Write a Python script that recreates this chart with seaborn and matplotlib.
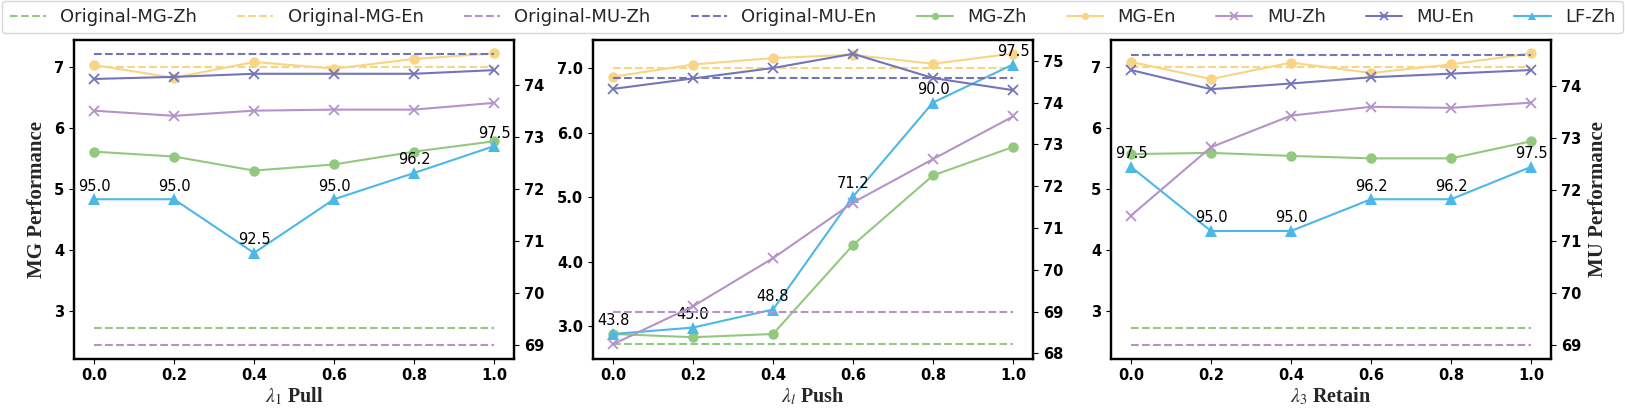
import numpy as np
import pandas as pd
import matplotlib
matplotlib.use("Agg")
import matplotlib.pyplot as plt
import seaborn as sns
from matplotlib.ticker import FormatStrFormatter

# ---------------- data ----------------
lam = [0.0, 0.2, 0.4, 0.6, 0.8, 1.0]

orig_mg_zh = 2.72
orig_mg_en = 7.0
orig_mu_zh = 69.0
orig_mu_en = 74.6

# panel 1 : lambda_1 Pull
p1_mg_zh = [5.61, 5.53, 5.30, 5.40, 5.61, 5.78]
p1_mg_en = [7.03, 6.82, 7.08, 6.97, 7.13, 7.22]
p1_mu_zh = [73.51, 73.41, 73.51, 73.53, 73.53, 73.66]
p1_mu_en = [74.12, 74.16, 74.22, 74.22, 74.22, 74.29]
p1_lf_pos = [4.83, 4.83, 3.95, 4.83, 5.26, 5.70]
p1_lf_lbl = [95.0, 95.0, 92.5, 95.0, 96.2, 97.5]

# panel 2 : lambda_l Push
p2_mg_zh = [2.88, 2.83, 2.88, 4.26, 5.34, 5.78]
p2_mg_en = [6.87, 7.06, 7.16, 7.21, 7.07, 7.23]
p2_mu_zh = [68.22, 69.13, 70.28, 71.61, 72.65, 73.67]
p2_mu_en = [74.33, 74.58, 74.83, 75.17, 74.59, 74.30]
p2_lf_pos = [2.88, 2.98, 3.26, 5.01, 6.47, 7.06]
p2_lf_lbl = [43.8, 45.0, 48.8, 71.2, 90.0, 97.5]

# panel 3 : lambda_3 Retain
p3_mg_zh = [5.57, 5.59, 5.54, 5.50, 5.50, 5.78]
p3_mg_en = [7.08, 6.80, 7.07, 6.90, 7.04, 7.22]
p3_mu_zh = [71.50, 72.82, 73.43, 73.60, 73.58, 73.68]
p3_mu_en = [74.31, 73.94, 74.05, 74.17, 74.24, 74.31]
p3_lf_pos = [5.36, 4.31, 4.31, 4.83, 4.83, 5.36]
p3_lf_lbl = [97.5, 95.0, 95.0, 96.2, 96.2, 97.5]

xlabels = [r"$\lambda_1$ Pull", r"$\lambda_l$ Push", r"$\lambda_3$ Retain"]

# ---------------- style ----------------
sns.set_style("ticks")
plt.rcParams["font.family"] = ["DejaVu Sans"]
plt.rcParams["mathtext.fontset"] = "stix"
plt.rcParams["axes.linewidth"] = 1.6
plt.rcParams["xtick.major.size"] = 3.5
plt.rcParams["ytick.major.size"] = 3.5
plt.rcParams["xtick.color"] = "black"
plt.rcParams["ytick.color"] = "black"
plt.rcParams["axes.edgecolor"] = "black"

C_MGZH = "#93c97e"
C_MGEN = "#f8d585"
C_MUZH = "#b592c9"
C_MUEN = "#7474bb"
C_LF = "#4db7e7"

fig = plt.figure(figsize=(16.25, 4.09), dpi=100)

lefts = [74 / 1625, 593 / 1625, 1111 / 1625]
width = 440 / 1625
bottom = (409 - 358.5) / 409
height = 318.5 / 409

panels = [
    (p1_mg_zh, p1_mg_en, p1_mu_zh, p1_mu_en, p1_lf_pos, p1_lf_lbl),
    (p2_mg_zh, p2_mg_en, p2_mu_zh, p2_mu_en, p2_lf_pos, p2_lf_lbl),
    (p3_mg_zh, p3_mg_en, p3_mu_zh, p3_mu_en, p3_lf_pos, p3_lf_lbl),
]
left_lims = [(2.22, 7.44), (2.50, 7.44), (2.22, 7.44)]
right_lims = [(68.74, 74.87), (67.88, 75.50), (68.74, 74.89)]
left_ticks = [[3, 4, 5, 6, 7], [3, 4, 5, 6, 7], [3, 4, 5, 6, 7]]
right_ticks = [[69, 70, 71, 72, 73, 74], [68, 69, 70, 71, 72, 73, 74, 75],
               [69, 70, 71, 72, 73, 74]]

LW = 1.5
handles = None
tick_fs = 10.5

for i, (mgzh, mgen, muzh, muen, lfp, lfl) in enumerate(panels):
    ax = fig.add_axes([lefts[i], bottom, width, height])
    ax2 = ax.twinx()
    xs = [lam[0], lam[-1]]

    sns.lineplot(x=xs, y=[orig_mg_zh, orig_mg_zh], ax=ax, color=C_MGZH,
                 linestyle="--", linewidth=LW)
    h_omgzh = ax.lines[-1]
    sns.lineplot(x=xs, y=[orig_mg_en, orig_mg_en], ax=ax, color=C_MGEN,
                 linestyle="--", linewidth=LW)
    h_omgen = ax.lines[-1]
    sns.lineplot(x=lam, y=mgzh, ax=ax, color=C_MGZH, marker="o", markersize=7.5,
                 linewidth=LW, markeredgecolor=C_MGZH, markeredgewidth=0)
    h_mgzh = ax.lines[-1]
    sns.lineplot(x=lam, y=mgen, ax=ax, color=C_MGEN, marker="o", markersize=7.5,
                 linewidth=LW, markeredgecolor=C_MGEN, markeredgewidth=0)
    h_mgen = ax.lines[-1]
    sns.lineplot(x=lam, y=lfp, ax=ax, color=C_LF, marker="^", markersize=8.5,
                 linewidth=LW, markeredgecolor=C_LF, markeredgewidth=0)
    h_lf = ax.lines[-1]
    for xv, yv, lb in zip(lam, lfp, lfl):
        ax.annotate(f"{lb:.1f}", (xv, yv), xytext=(0, 4), textcoords="offset points",
                    ha="center", va="bottom", fontsize=10.5, color="black")

    sns.lineplot(x=xs, y=[orig_mu_zh, orig_mu_zh], ax=ax2, color=C_MUZH,
                 linestyle="--", linewidth=LW)
    h_omuzh = ax2.lines[-1]
    sns.lineplot(x=xs, y=[orig_mu_en, orig_mu_en], ax=ax2, color=C_MUEN,
                 linestyle="--", linewidth=LW)
    h_omuen = ax2.lines[-1]
    sns.lineplot(x=lam, y=muzh, ax=ax2, color=C_MUZH, marker="x", markersize=7.5,
                 linewidth=LW, markeredgecolor=C_MUZH, markeredgewidth=1.3)
    h_muzh = ax2.lines[-1]
    sns.lineplot(x=lam, y=muen, ax=ax2, color=C_MUEN, marker="x", markersize=7.5,
                 linewidth=LW, markeredgecolor=C_MUEN, markeredgewidth=1.3)
    h_muen = ax2.lines[-1]

    ax.set_xlim(-0.05, 1.05)
    ax.set_xticks(lam)
    ax.xaxis.set_major_formatter(FormatStrFormatter("%.1f"))
    ax.set_ylim(*left_lims[i])
    ax.set_yticks(left_ticks[i])
    if i == 1:
        ax.yaxis.set_major_formatter(FormatStrFormatter("%.1f"))
    ax2.set_ylim(*right_lims[i])
    ax2.set_yticks(right_ticks[i])

    for a in (ax, ax2):
        for lab in a.get_xticklabels() + a.get_yticklabels():
            lab.set_fontweight("bold")
            lab.set_fontsize(tick_fs)
        for s in a.spines.values():
            s.set_visible(True)
            s.set_color("black")
            s.set_linewidth(1.6)

    ax.set_xlabel(xlabels[i], fontfamily="Liberation Serif", fontweight="bold",
                  fontsize=14.5, labelpad=2)
    if i == 0:
        ax.set_ylabel("MG Performance", fontfamily="Liberation Serif",
                      fontweight="bold", fontsize=15, labelpad=5)
    else:
        ax.set_ylabel("")
    if i == 2:
        ax2.set_ylabel("MU Performance", fontfamily="Liberation Serif",
                       fontweight="bold", fontsize=15, labelpad=5)
    else:
        ax2.set_ylabel("")

    if handles is None:
        handles = [h_omgzh, h_omgen, h_omuzh, h_omuen, h_mgzh, h_mgen, h_muzh, h_muen, h_lf]

labels = ["Original-MG-Zh", "Original-MG-En", "Original-MU-Zh", "Original-MU-En",
          "MG-Zh", "MG-En", "MU-Zh", "MU-En", "LF-Zh"]
fig.legend(handles, labels, loc="lower left", bbox_to_anchor=(0.0015, 0.919, 0.997, 0.076),
           mode="expand", ncol=9, fontsize=13, markerscale=0.7, borderaxespad=0,
           frameon=True, fancybox=True)

fig.savefig("out.png", dpi=100)
